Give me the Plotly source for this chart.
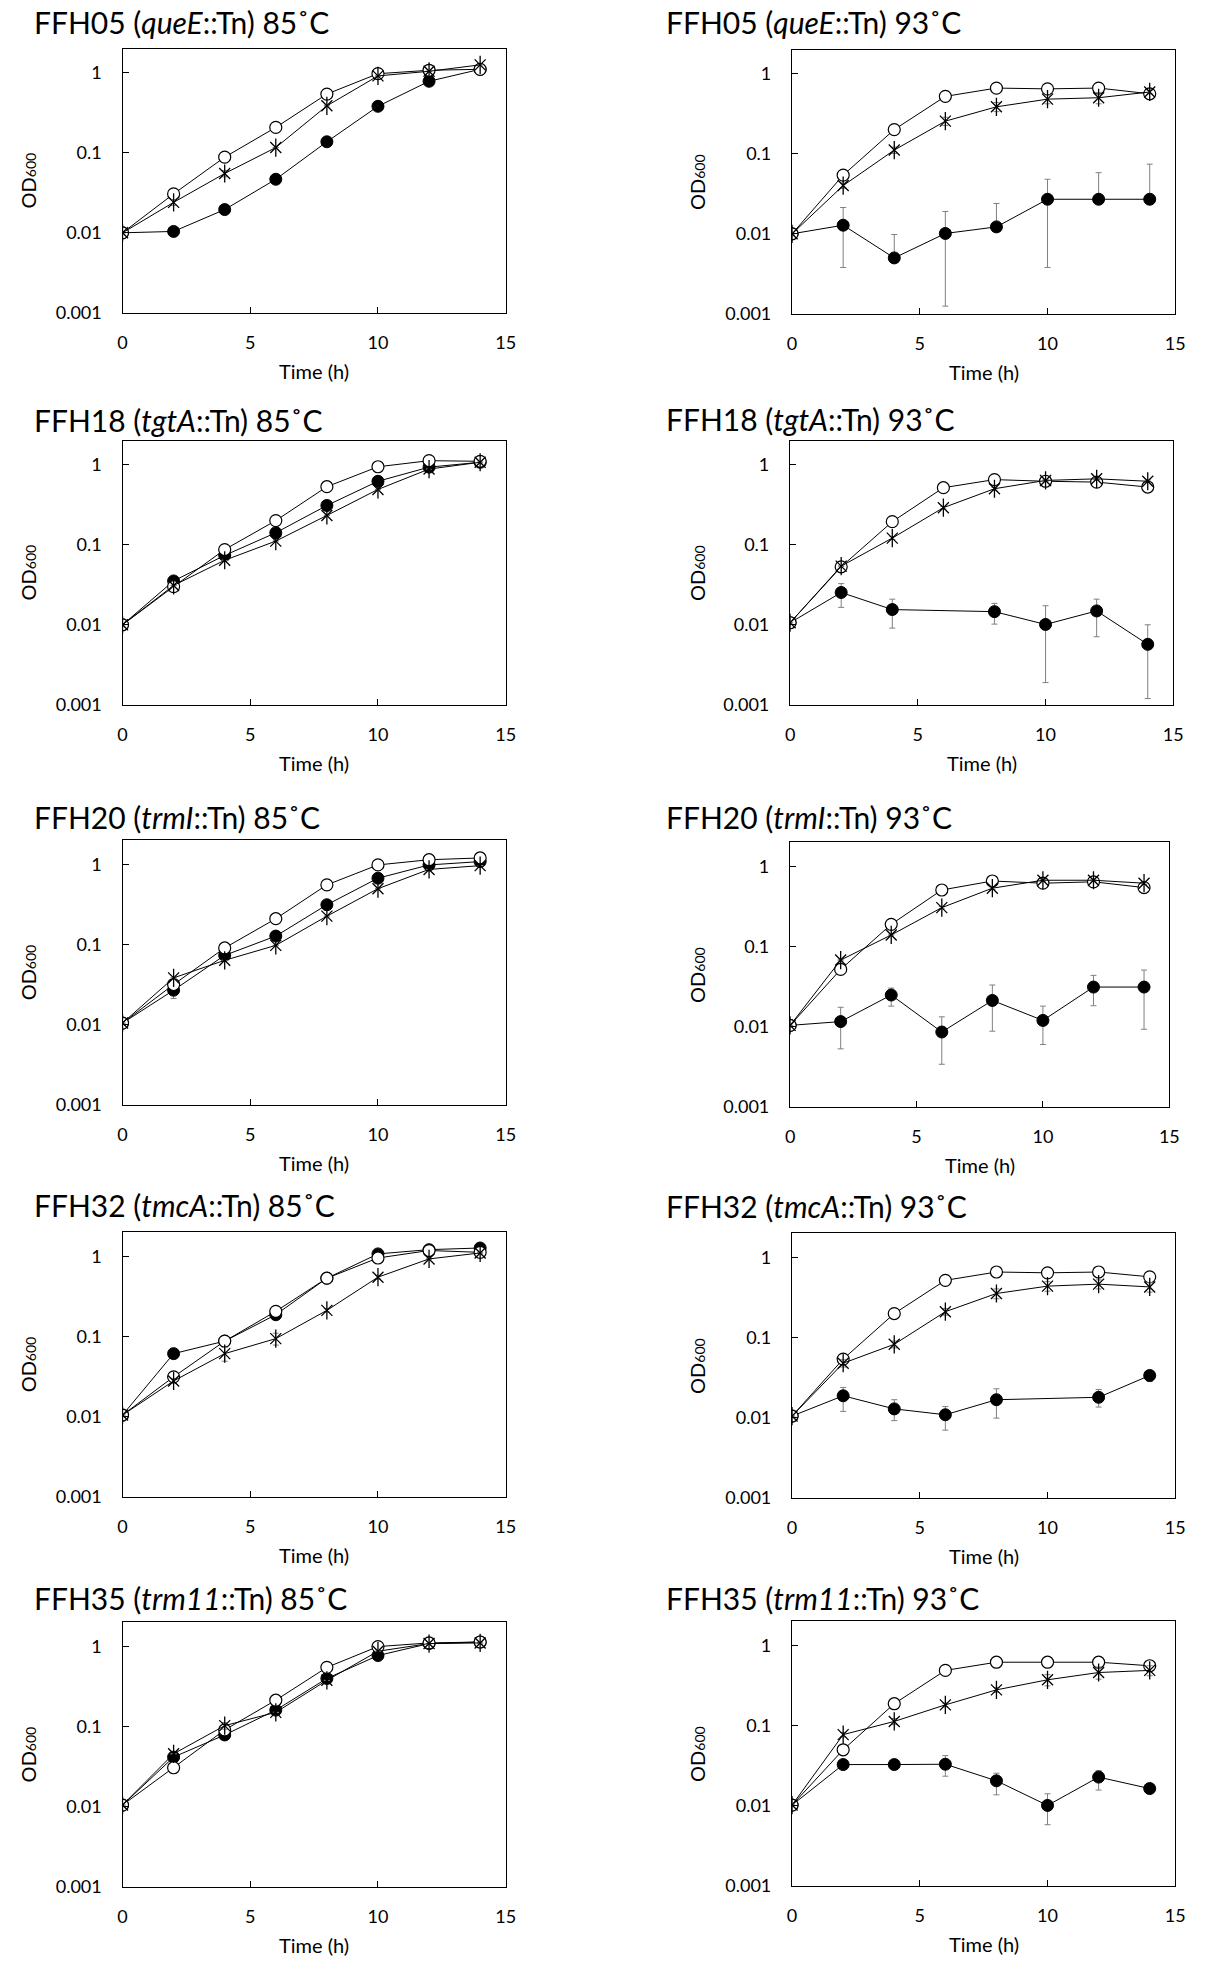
import math
import plotly.graph_objects as go

# ---------------- data ----------------
time_h = [0, 2, 4, 6, 8, 10, 12, 14]

titles = [
    "FFH05 (<i>queE</i>::Tn) 85˚C", "FFH05 (<i>queE</i>::Tn) 93˚C",
    "FFH18 (<i>tgtA</i>::Tn) 85˚C", "FFH18 (<i>tgtA</i>::Tn) 93˚C",
    "FFH20 (<i>trmI</i>::Tn) 85˚C", "FFH20 (<i>trmI</i>::Tn) 93˚C",
    "FFH32 (<i>tmcA</i>::Tn) 85˚C", "FFH32 (<i>tmcA</i>::Tn) 93˚C",
    "FFH35 (<i>trm11</i>::Tn) 85˚C", "FFH35 (<i>trm11</i>::Tn) 93˚C",
]

y_tick_vals = [0.001, 0.01, 0.1, 1]
y_tick_text = ["0.001", "0.01", "0.1", "1"]
x_tick_vals = [0, 5, 10, 15]
x_title = "Time (h)"
y_title = "OD<span style='font-size:14px'>600</span>"

# FFH05 85
FFH05_85_filled = [0.01, 0.0104, 0.0195, 0.0466, 0.137, 0.38, 0.78, 1.10]
FFH05_85_filled_ep = [0, 0.001, 0.001, 0, 0, 0, 0, 0]
FFH05_85_filled_em = [0, 0.001, 0.001, 0, 0, 0, 0, 0]
FFH05_85_open = [0.01, 0.0306, 0.088, 0.207, 0.54, 0.97, 1.07, 1.10]
FFH05_85_star = [0.01, 0.024, 0.055, 0.116, 0.385, 0.91, 1.04, 1.25]
FFH05_85_star_e = [0, 0.002, 0.005, 0, 0, 0, 0, 0]

# FFH05 93
FFH05_93_filled = [0.01, 0.0128, 0.0050, 0.0101, 0.0122, 0.027, 0.027, 0.027]
FFH05_93_filled_ep = [0, 0.0085, 0.0048, 0.0089, 0.0117, 0.021, 0.031, 0.047]
FFH05_93_filled_em = [0, 0.0090, 0, 0.00885, 0, 0.0232, 0, 0]
FFH05_93_open = [0.01, 0.054, 0.20, 0.52, 0.66, 0.645, 0.66, 0.56]
FFH05_93_star = [0.01, 0.040, 0.111, 0.255, 0.385, 0.48, 0.50, 0.59]
FFH05_93_star_e = [0, 0.003, 0.01, 0.03, 0.05, 0.06, 0.08, 0.03]

# FFH18 85
FFH18_85_filled = [0.01, 0.0353, 0.0736, 0.141, 0.309, 0.62, 0.93, 1.07]
FFH18_85_filled_ep = [0, 0, 0, 0, 0, 0, 0, 0]
FFH18_85_filled_em = [0, 0, 0, 0, 0, 0, 0, 0]
FFH18_85_open = [0.01, 0.030, 0.087, 0.20, 0.53, 0.94, 1.12, 1.10]
FFH18_85_star = [0.01, 0.031, 0.064, 0.111, 0.232, 0.49, 0.88, 1.07]
FFH18_85_star_e = [0, 0, 0, 0, 0, 0, 0, 0]

# FFH18 93
FFH18_93_filled = [0.0106, 0.0253, 0.0155, None, 0.0146, 0.0101, 0.0149, 0.0057]
FFH18_93_filled_ep = [0, 0.0074, 0.0054, 0, 0.0039, 0.0072, 0.0060, 0.0043]
FFH18_93_filled_em = [0, 0.0088, 0.0064, 0, 0.0044, 0.0082, 0.0078, 0.0045]
FFH18_93_open = [0.0106, 0.053, 0.194, 0.515, 0.65, 0.62, 0.605, 0.525]
FFH18_93_star = [0.0106, 0.054, 0.121, 0.29, 0.50, 0.635, 0.665, 0.62]
FFH18_93_star_e = [0, 0, 0.005, 0.01, 0.02, 0.02, 0.02, 0.02]

# FFH20 85
FFH20_85_filled = [0.0105, 0.027, 0.0736, 0.128, 0.315, 0.676, 0.99, 1.09]
FFH20_85_filled_ep = [0, 0.0057, 0, 0, 0, 0, 0, 0]
FFH20_85_filled_em = [0, 0.0057, 0, 0, 0, 0, 0, 0]
FFH20_85_open = [0.0105, 0.0318, 0.091, 0.211, 0.558, 0.99, 1.15, 1.21]
FFH20_85_star = [0.0105, 0.0385, 0.0638, 0.098, 0.227, 0.50, 0.87, 0.97]
FFH20_85_star_e = [0, 0, 0, 0, 0, 0, 0, 0]

# FFH20 93
FFH20_93_filled = [0.0104, 0.0116, 0.0249, 0.0086, 0.0213, 0.0120, 0.0313, 0.0313]
FFH20_93_filled_ep = [0, 0.0059, 0.0055, 0.0047, 0.0119, 0.0061, 0.0125, 0.0197]
FFH20_93_filled_em = [0, 0.0063, 0.0068, 0.0052, 0.0125, 0.0060, 0.0130, 0.0220]
FFH20_93_open = [0.0104, 0.052, 0.19, 0.51, 0.66, 0.62, 0.645, 0.547]
FFH20_93_star = [0.0104, 0.068, 0.14, 0.307, 0.537, 0.675, 0.675, 0.62]
FFH20_93_star_e = [0, 0, 0, 0.01, 0.02, 0.02, 0.02, 0.02]

# FFH32 85
FFH32_85_filled = [0.0105, 0.0614, 0.088, 0.188, 0.537, 1.08, 1.22, 1.28]
FFH32_85_filled_ep = [0, 0.008, 0, 0, 0, 0, 0, 0]
FFH32_85_filled_em = [0, 0.008, 0, 0, 0, 0, 0, 0]
FFH32_85_open = [0.0105, 0.0315, 0.088, 0.207, 0.537, 0.96, 1.19, 1.13]
FFH32_85_star = [0.0105, 0.028, 0.0614, 0.0945, 0.213, 0.553, 0.935, 1.11]
FFH32_85_star_e = [0, 0.002, 0.012, 0.016, 0.01, 0.03, 0, 0]

# FFH32 93
FFH32_93_filled = [0.0105, 0.0188, 0.0129, 0.0109, 0.0168, None, 0.0180, 0.0337]
FFH32_93_filled_ep = [0, 0.0051, 0.0039, 0.0029, 0.0062, 0, 0.0045, 0.0045]
FFH32_93_filled_em = [0, 0.0068, 0.0037, 0.0039, 0.0069, 0, 0.0044, 0.0054]
FFH32_93_open = [0.0105, 0.054, 0.20, 0.52, 0.66, 0.645, 0.66, 0.575]
FFH32_93_star = [0.0105, 0.048, 0.0826, 0.211, 0.356, 0.44, 0.466, 0.43]
FFH32_93_star_e = [0, 0.005, 0.008, 0.02, 0.05, 0.06, 0.06, 0.06]

# FFH35 85
FFH35_85_filled = [0.0105, 0.0417, 0.0788, 0.161, 0.40, 0.773, 1.09, 1.14]
FFH35_85_filled_ep = [0, 0, 0, 0, 0, 0, 0, 0]
FFH35_85_filled_em = [0, 0, 0, 0, 0, 0, 0, 0]
FFH35_85_open = [0.0105, 0.0307, 0.091, 0.214, 0.55, 1.0, 1.11, 1.14]
FFH35_85_star = [0.0105, 0.0458, 0.103, 0.151, 0.379, 0.875, 1.09, 1.11]
FFH35_85_star_e = [0, 0, 0.01, 0, 0, 0, 0, 0]

# FFH35 93
FFH35_93_filled = [0.0102, 0.0327, 0.0327, 0.0330, 0.0205, 0.0101, 0.0228, 0.0164]
FFH35_93_filled_ep = [0, 0, 0, 0.0093, 0.0050, 0.0040, 0.0047, 0]
FFH35_93_filled_em = [0, 0, 0, 0.0096, 0.0068, 0.0043, 0.0071, 0]
FFH35_93_open = [0.0102, 0.050, 0.188, 0.49, 0.62, 0.62, 0.62, 0.56]
FFH35_93_star = [0.0102, 0.0773, 0.113, 0.182, 0.28, 0.374, 0.461, 0.49]
FFH35_93_star_e = [0, 0.005, 0.01, 0.01, 0.02, 0.06, 0.08, 0.07]

panels = [
    (FFH05_85_filled, FFH05_85_filled_ep, FFH05_85_filled_em, FFH05_85_open, FFH05_85_star, FFH05_85_star_e),
    (FFH05_93_filled, FFH05_93_filled_ep, FFH05_93_filled_em, FFH05_93_open, FFH05_93_star, FFH05_93_star_e),
    (FFH18_85_filled, FFH18_85_filled_ep, FFH18_85_filled_em, FFH18_85_open, FFH18_85_star, FFH18_85_star_e),
    (FFH18_93_filled, FFH18_93_filled_ep, FFH18_93_filled_em, FFH18_93_open, FFH18_93_star, FFH18_93_star_e),
    (FFH20_85_filled, FFH20_85_filled_ep, FFH20_85_filled_em, FFH20_85_open, FFH20_85_star, FFH20_85_star_e),
    (FFH20_93_filled, FFH20_93_filled_ep, FFH20_93_filled_em, FFH20_93_open, FFH20_93_star, FFH20_93_star_e),
    (FFH32_85_filled, FFH32_85_filled_ep, FFH32_85_filled_em, FFH32_85_open, FFH32_85_star, FFH32_85_star_e),
    (FFH32_93_filled, FFH32_93_filled_ep, FFH32_93_filled_em, FFH32_93_open, FFH32_93_star, FFH32_93_star_e),
    (FFH35_85_filled, FFH35_85_filled_ep, FFH35_85_filled_em, FFH35_85_open, FFH35_85_star, FFH35_85_star_e),
    (FFH35_93_filled, FFH35_93_filled_ep, FFH35_93_filled_em, FFH35_93_open, FFH35_93_star, FFH35_93_star_e),
]

# ---------------- layout geometry (pixels) ----------------
W, H = 1205, 1966
FONT = "Lato"
DEC = 80.5
y1_left = [73, 467, 869, 1263, 1655]
y1_right = [74, 467, 871, 1264, 1654]
x_left = [(119, 507)] * 5
x_right = [(797, 1185), (795, 1183), (795, 1179), (797, 1185), (797, 1185)]
title_y_left = [22, 422, 821, 1211, 1606]
title_y_right = [22, 421, 821, 1212, 1606]

fig = go.Figure()
annotations = []
ERR_COLOR = "#808080"

for i, (filled, fep, fem, opn, star, se) in enumerate(panels):
    row, col = divmod(i, 2)
    xa = "x" if i == 0 else f"x{i+1}"
    ya = "y" if i == 0 else f"y{i+1}"
    if col == 0:
        l, r = x_left[row]
        y1 = y1_left[row]
        ty = title_y_left[row]
        tx = 27
        ylab_x = 23
    else:
        l, r = x_right[row]
        y1 = y1_right[row]
        ty = title_y_right[row]
        tx = 667
        ylab_x = 700
    top = y1 - math.log10(2) * DEC
    bot = y1 + 3 * DEC

    common_line = dict(color="black", width=1)
    fig.add_trace(go.Scatter(
        x=time_h, y=filled, mode="lines+markers", connectgaps=True,
        line=common_line,
        marker=dict(symbol="circle", size=12, color="black", line=dict(color="black", width=1)),
        error_y=dict(type="data", symmetric=False, array=fep, arrayminus=fem,
                     color=ERR_COLOR, thickness=1, width=3),
        xaxis=xa, yaxis=ya, showlegend=False))
    fig.add_trace(go.Scatter(
        x=time_h, y=opn, mode="lines+markers",
        line=common_line,
        marker=dict(symbol="circle", size=12, color="white", line=dict(color="black", width=1.2)),
        xaxis=xa, yaxis=ya, showlegend=False))
    fig.add_trace(go.Scatter(
        x=time_h, y=star, mode="lines+markers",
        line=common_line,
        marker=dict(symbol="x-thin-open", size=11, color="black", line=dict(color="black", width=1.3)),
        error_y=dict(type="data", array=se, color=ERR_COLOR, thickness=1, width=3),
        xaxis=xa, yaxis=ya, showlegend=False))
    fig.add_trace(go.Scatter(
        x=time_h, y=star, mode="markers",
        marker=dict(symbol="line-ns-open", size=13, color="black", line=dict(color="black", width=1.3)),
        xaxis=xa, yaxis=ya, showlegend=False))

    axis_common = dict(showline=True, linecolor="black", linewidth=1.4, mirror=True,
                       ticks="inside", ticklen=6, tickwidth=1.2, tickcolor="black",
                       showgrid=False, zeroline=False,
                       tickfont=dict(family=FONT, size=18, color="black"))
    fig.update_layout({
        ("xaxis" if i == 0 else f"xaxis{i+1}"): dict(
            axis_common, domain=[l / W, r / W], range=[0, 15],
            tickvals=x_tick_vals, anchor=ya, ticklabelstandoff=13),
        ("yaxis" if i == 0 else f"yaxis{i+1}"): dict(
            axis_common, domain=[1 - bot / H, 1 - top / H], type="log",
            range=[-3, math.log10(2)], tickvals=y_tick_vals, ticktext=y_tick_text,
            anchor=xa, ticklabelstandoff=16),
    })

    annotations.append(dict(text=titles[i], x=tx / W, y=1 - ty / H, xref="paper", yref="paper",
                            xanchor="left", yanchor="middle", showarrow=False,
                            font=dict(family=FONT, size=30, color="black")))
    annotations.append(dict(text=x_title, x=(l + r) / 2 / W, y=1 - (bot + 58) / H,
                            xref="paper", yref="paper", xanchor="center", yanchor="middle",
                            showarrow=False, font=dict(family=FONT, size=20, color="black")))
    annotations.append(dict(text=y_title, x=ylab_x / W, y=1 - ((top + bot) / 2) / H,
                            xref="paper", yref="paper", xanchor="center", yanchor="middle",
                            textangle=-90, showarrow=False,
                            font=dict(family=FONT, size=20, color="black")))

fig.update_layout(width=W, height=H, margin=dict(l=0, r=0, t=0, b=0),
                  paper_bgcolor="white", plot_bgcolor="white",
                  showlegend=False, annotations=annotations,
                  font=dict(family=FONT, color="black"))

fig.write_html("out.html")
